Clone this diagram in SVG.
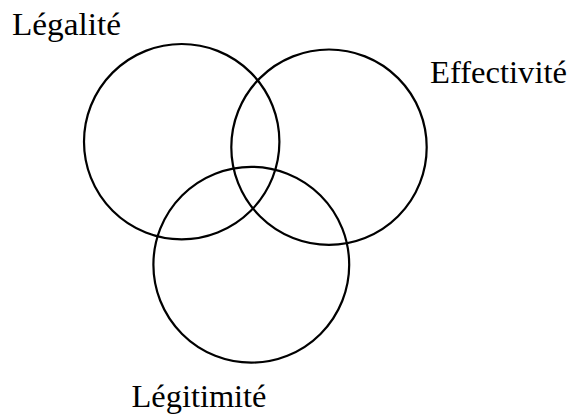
<svg xmlns="http://www.w3.org/2000/svg" width="576" height="414" viewBox="0 0 576 414">
<style>
.c{fill:none;stroke:#000;stroke-width:2.2}
.t{font-family:"Liberation Serif","Times New Roman",serif;font-size:32px;fill:#000}
</style>
<rect width="576" height="414" fill="#fff"/>
<g id="legalite">
<circle class="c" cx="181.7" cy="141.7" r="97.7"/>
<text class="t" x="12" y="34.5" textLength="109" lengthAdjust="spacingAndGlyphs">Légalité</text>
</g>
<g id="effectivite">
<circle class="c" cx="329" cy="147.2" r="97.7"/>
<text class="t" x="430" y="83" textLength="137" lengthAdjust="spacingAndGlyphs">Effectivité</text>
</g>
<g id="legitimite">
<circle class="c" cx="251.3" cy="264.7" r="97.9"/>
<text class="t" x="131.5" y="406.5" textLength="135" lengthAdjust="spacingAndGlyphs">Légitimité</text>
</g>
<g id="connectors"></g>
</svg>
